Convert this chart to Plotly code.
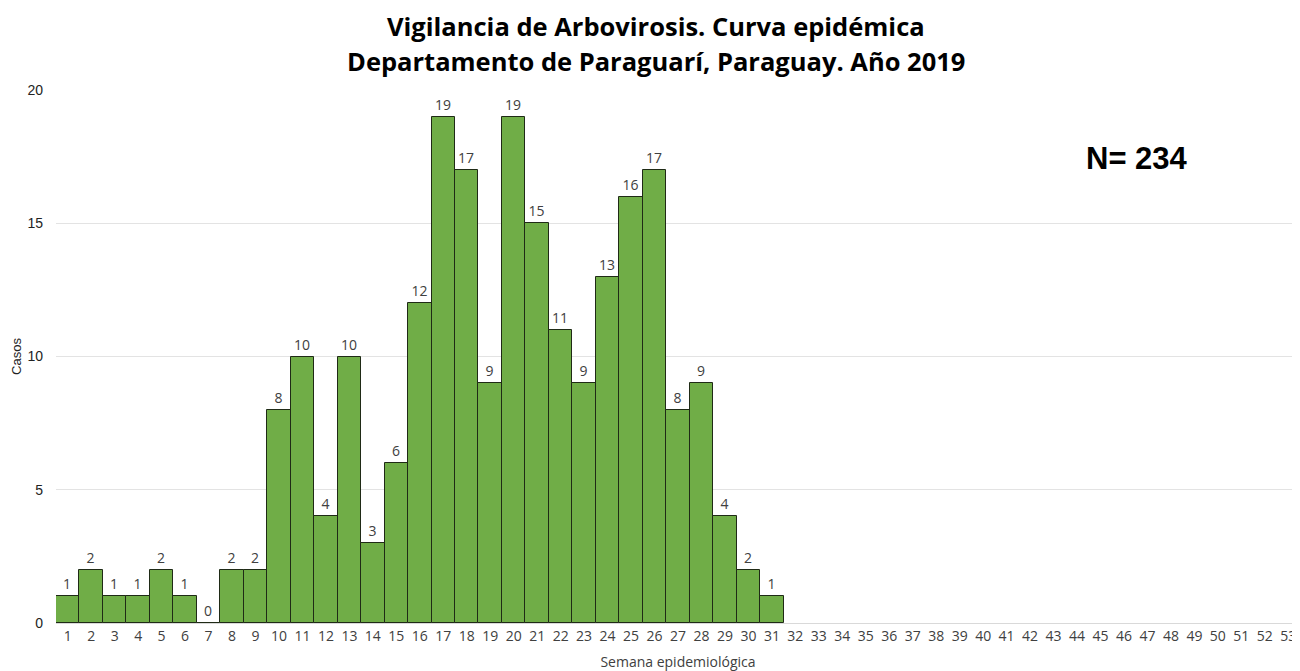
import plotly.graph_objects as go

weeks = [str(i) for i in range(1, 54)]
cases = [1, 2, 1, 1, 2, 1, 0, 2, 2, 8, 10, 4, 10, 3, 6, 12, 19, 17, 9, 19,
         15, 11, 9, 13, 16, 17, 8, 9, 4, 2, 1] + [None] * 22
y_ticks = [0, 5, 10, 15, 20]

title_line1 = "Vigilancia de Arbovirosis. Curva epidémica"
title_line2 = "Departamento de Paraguarí, Paraguay. Año 2019"
total_text = "N= 234"

fig = go.Figure()
fig.add_trace(go.Bar(
    x=weeks, y=cases,
    marker=dict(color="#70AD47", line=dict(color="#1f2a16", width=1)),
    text=[("" if v is None else str(v)) for v in cases],
    textposition="outside",
    textfont=dict(family="Open Sans", size=14, color="#404040"),
    cliponaxis=False,
    hoverinfo="x+y",
))

fig.update_layout(
    width=1300, height=671,
    paper_bgcolor="white", plot_bgcolor="white",
    margin=dict(l=48, r=8, t=82, b=56, autoexpand=False),
    bargap=0,
    showlegend=False,
    xaxis=dict(type="category", automargin=False,
               tickfont=dict(family="Open Sans", size=14, color="#404040"),
               showgrid=False, showline=True, linecolor="#d9d9d9", ticks="",
               title=dict(text="Semana epidemiológica", standoff=13,
                          font=dict(family="Open Sans", size=14, color="#404040"))),
    yaxis=dict(range=[0, 20], tickvals=y_ticks, showgrid=True, gridcolor="#e3e3e3",
               automargin=False, zeroline=False, showline=False, ticks="",
               ticklabelstandoff=12,
               tickfont=dict(family="Liberation Sans", size=14, color="#222"),
               title=dict(text="Casos", standoff=2,
                          font=dict(family="Liberation Sans", size=13, color="#222"))),
    annotations=[
        dict(text=title_line1, x=0.482, y=(623 - 26) / 533, xref="paper", yref="paper",
             xanchor="center", yanchor="middle", showarrow=False,
             font=dict(family="Open Sans", size=25.5, color="black", weight="bold")),
        dict(text=title_line2, x=0.482, y=(623 - 61) / 533, xref="paper", yref="paper",
             xanchor="center", yanchor="middle", showarrow=False,
             font=dict(family="Open Sans", size=25.5, color="black", weight="bold")),
        dict(text=total_text, x=0.869, y=0.872, xref="paper", yref="paper",
             xanchor="center", yanchor="middle", showarrow=False,
             font=dict(family="Liberation Sans", size=31, color="black", weight="bold")),
    ],
)

fig.write_html("out.html")
